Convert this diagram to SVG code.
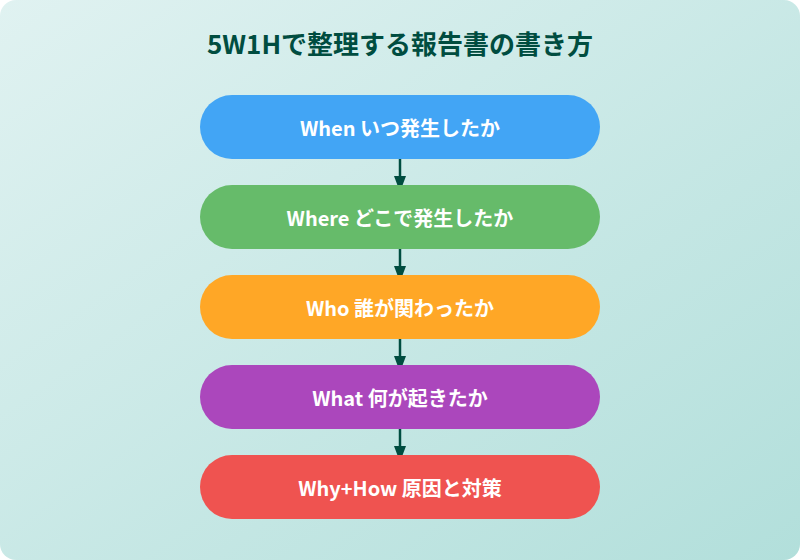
<svg xmlns="http://www.w3.org/2000/svg" width="800" height="560" viewBox="0 0 800 560">
<defs>
<linearGradient id="bg" x1="0" y1="0" x2="1" y2="1">
<stop offset="0" stop-color="#e0f2f1"/>
<stop offset="1" stop-color="#b2dfdb"/>
</linearGradient>
<marker id="arr" viewBox="0 0 16 12" refX="8" refY="6" markerWidth="16" markerHeight="12" markerUnits="userSpaceOnUse" orient="auto">
<path d="M0,0 L16,6 L0,12 Z" fill="#004d40"/>
</marker>
<style>
.title{font-family:"Noto Sans CJK JP","Noto Sans",sans-serif;font-weight:700;font-size:26px;fill:#004d40;text-anchor:middle}
.lbl{font-family:"Noto Sans CJK JP","Noto Sans",sans-serif;font-weight:700;font-size:20px;fill:#ffffff;text-anchor:middle;dominant-baseline:central}
.conn{stroke:#004d40;stroke-width:2.5;fill:none}
</style>
</defs>
<rect x="0" y="0" width="800" height="560" rx="16" fill="url(#bg)"/>
<text class="title" x="400" y="54">5W1Hで整理する報告書の書き方</text>
<g id="connectors">
<path class="conn" d="M400,159 L400,184" marker-end="url(#arr)"/>
<path class="conn" d="M400,249 L400,274" marker-end="url(#arr)"/>
<path class="conn" d="M400,339 L400,364" marker-end="url(#arr)"/>
<path class="conn" d="M400,429 L400,454" marker-end="url(#arr)"/>
</g>
<g id="when"><rect x="200" y="95" width="400" height="64" rx="32" fill="#42a5f5"/><text class="lbl" x="400" y="127">When いつ発生したか</text></g>
<g id="where"><rect x="200" y="185" width="400" height="64" rx="32" fill="#66bb6a"/><text class="lbl" x="400" y="217">Where どこで発生したか</text></g>
<g id="who"><rect x="200" y="275" width="400" height="64" rx="32" fill="#ffa726"/><text class="lbl" x="400" y="307">Who 誰が関わったか</text></g>
<g id="what"><rect x="200" y="365" width="400" height="64" rx="32" fill="#ab47bc"/><text class="lbl" x="400" y="397">What 何が起きたか</text></g>
<g id="whyhow"><rect x="200" y="455" width="400" height="64" rx="32" fill="#ef5350"/><text class="lbl" x="400" y="487">Why+How 原因と対策</text></g>
</svg>
